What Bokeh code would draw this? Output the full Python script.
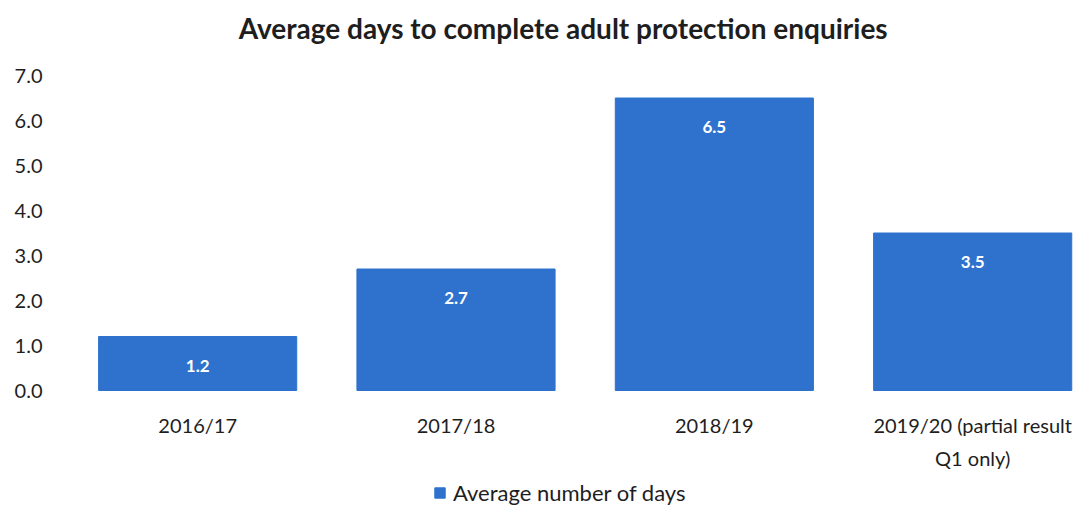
from bokeh.plotting import figure
from bokeh.models import Range1d, FixedTicker, Legend, LegendItem, ColumnDataSource, NumeralTickFormatter, Label
from bokeh.embed import file_html
from bokeh.resources import INLINE
from bokeh.core.properties import value

# ---- data ----
categories = ["2016/17", "2017/18", "2018/19", "2019/20 (partial result\nQ1 only)"]
avg_days = [1.2, 2.7, 6.5, 3.5]
y_ticks = [0, 1, 2, 3, 4, 5, 6, 7]
series_name = "Average number of days"
title_text = "Average days to complete adult protection enquiries"

FONT = "Lato"
BAR = "#2E72CE"
INK = "#1e1e1e"

xs = list(range(len(categories)))
src = ColumnDataSource(dict(x=xs, top=avg_days, label=[f"{v:.1f}" for v in avg_days], cat=categories))

# frame fills the canvas; value 0 sits 390 px from the top, 45 px per day
PX_PER_UNIT = 45.0
H = 506
ZERO_PX = 390
p = figure(width=1075, height=H, output_backend="svg", toolbar_location=None,
           x_range=Range1d(-0.5, 3.398),
           y_range=Range1d(-(H - ZERO_PX) / PX_PER_UNIT, ZERO_PX / PX_PER_UNIT),
           min_border_left=68, min_border_right=0, min_border_top=0, min_border_bottom=0)

r = p.vbar(x="x", top="top", width=0.767, source=src, fill_color=BAR, line_color=BAR)
p.text(x="x", y="top", text="label", source=src, y_offset=29,
       text_align="center", text_baseline="middle", text_color="white",
       text_font=value(FONT), text_font_style="bold", text_font_size="17px")

# category labels under the bars
p.text(x="x", y=0, text="cat", source=src, y_offset=22,
       text_align="center", text_baseline="top", text_color=INK,
       text_font=value(FONT), text_font_size="20px", text_line_height=1.375)

# title
p.add_layout(Label(x=(xs[0] + xs[-1]) / 2, y=max(y_ticks) + 1, x_offset=-22, y_offset=3,
                   text=title_text, text_align="center", text_baseline="middle",
                   text_color=INK, text_font=FONT, text_font_size="28px",
                   text_font_style="bold"))

p.xgrid.visible = False
p.ygrid.visible = False
p.outline_line_color = None
p.xaxis.visible = False

p.yaxis.ticker = FixedTicker(ticks=y_ticks)
p.yaxis.formatter = NumeralTickFormatter(format="0.0")
p.yaxis.axis_line_color = None
p.yaxis.major_tick_line_color = None
p.yaxis.minor_tick_line_color = None
p.yaxis.major_tick_out = 0
p.yaxis.major_tick_in = 0
p.yaxis.major_label_text_font = FONT
p.yaxis.major_label_text_font_size = "20px"
p.yaxis.major_label_text_color = INK
p.yaxis.major_label_standoff = 26

legend = Legend(items=[LegendItem(label=series_name, renderers=[r])],
                orientation="horizontal", location=(365, 0),
                label_text_font=FONT, label_text_font_size="22px", label_text_color=INK,
                glyph_width=13, glyph_height=13, label_standoff=7,
                border_line_color=None, background_fill_alpha=0,
                padding=0, margin=0, label_height=22)
p.add_layout(legend, "center")

open("out.html", "w").write(file_html(p, INLINE))
